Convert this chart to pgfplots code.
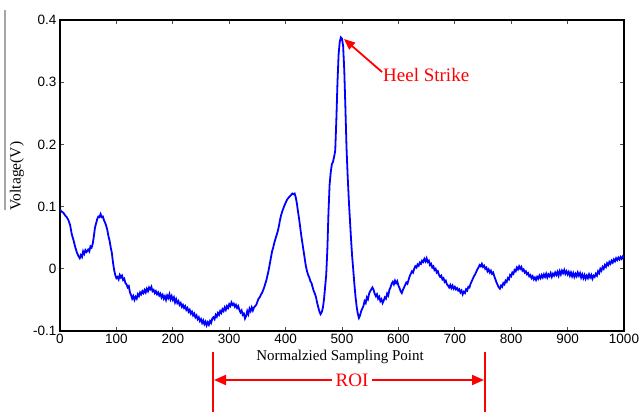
\documentclass[border=0pt]{standalone}
\usepackage{fontspec}
\setmainfont{Liberation Sans}
\newfontfamily\serif{Liberation Serif}
\usepackage{pgfplots}
\pgfplotsset{compat=1.18}
\usetikzlibrary{arrows.meta}

\pgfplotstableread{
x y
0 0.095
3 0.092
6 0.090
9 0.086
12 0.083
15 0.078
18 0.070
21 0.055
24 0.046
27 0.035
30 0.026
33 0.020
35 0.017
37 0.022
39 0.019
41 0.028
43 0.024
45 0.030
47 0.027
50 0.031
52 0.028
54 0.036
56 0.034
58 0.040
60 0.052
62 0.066
64 0.073
66 0.080
68 0.084
70 0.083
72 0.088
74 0.083
76 0.084
78 0.078
80 0.074
82 0.069
84 0.062
86 0.052
88 0.045
90 0.034
92 0.025
94 0.010
96 -0.002
98 -0.010
100 -0.015
102 -0.013
104 -0.017
106 -0.010
108 -0.014
110 -0.011
112 -0.018
114 -0.016
116 -0.023
118 -0.025
120 -0.030
122 -0.028
124 -0.038
126 -0.042
128 -0.048
130 -0.044
132 -0.050
134 -0.045
136 -0.048
138 -0.041
140 -0.044
142 -0.038
144 -0.041
146 -0.036
148 -0.039
150 -0.034
152 -0.038
154 -0.032
156 -0.036
158 -0.030
160 -0.033
162 -0.029
164 -0.036
166 -0.034
168 -0.039
170 -0.036
172 -0.041
174 -0.038
176 -0.043
178 -0.040
180 -0.046
182 -0.042
184 -0.048
186 -0.044
188 -0.050
190 -0.043
192 -0.047
194 -0.041
196 -0.049
198 -0.044
200 -0.050
202 -0.046
204 -0.054
206 -0.049
208 -0.055
210 -0.052
212 -0.058
214 -0.055
216 -0.061
218 -0.058
220 -0.063
222 -0.060
224 -0.066
226 -0.063
228 -0.069
230 -0.066
232 -0.072
234 -0.069
236 -0.075
238 -0.072
240 -0.078
242 -0.075
244 -0.081
246 -0.078
248 -0.084
250 -0.081
252 -0.087
254 -0.083
256 -0.089
258 -0.085
260 -0.091
262 -0.086
264 -0.090
266 -0.084
268 -0.087
270 -0.080
272 -0.078
274 -0.081
276 -0.074
278 -0.077
280 -0.071
282 -0.074
284 -0.068
286 -0.071
288 -0.065
290 -0.068
292 -0.062
294 -0.066
296 -0.060
298 -0.063
300 -0.057
302 -0.060
304 -0.054
306 -0.058
308 -0.056
310 -0.061
312 -0.058
314 -0.063
316 -0.060
318 -0.066
320 -0.070
322 -0.067
324 -0.074
326 -0.072
328 -0.080
330 -0.076
332 -0.068
334 -0.073
336 -0.064
338 -0.068
340 -0.062
342 -0.067
344 -0.062
346 -0.060
348 -0.058
350 -0.053
352 -0.048
354 -0.046
356 -0.042
358 -0.039
360 -0.035
362 -0.030
364 -0.024
366 -0.018
368 -0.010
370 -0.002
372 0.008
374 0.018
376 0.028
378 0.034
380 0.042
382 0.048
384 0.054
386 0.060
388 0.068
390 0.078
392 0.086
394 0.092
396 0.097
398 0.102
400 0.106
402 0.110
404 0.113
406 0.115
408 0.117
410 0.119
412 0.121
414 0.120
416 0.121
418 0.115
420 0.105
422 0.092
424 0.080
426 0.066
428 0.052
430 0.040
432 0.028
434 0.016
436 0.004
438 -0.004
440 -0.010
442 -0.014
444 -0.020
446 -0.023
448 -0.030
450 -0.036
452 -0.040
454 -0.046
456 -0.055
458 -0.062
460 -0.069
462 -0.073
464 -0.070
466 -0.063
468 -0.050
470 -0.030
472 -0.010
474 0.030
476 0.090
478 0.135
480 0.155
482 0.168
484 0.172
486 0.180
488 0.190
490 0.240
492 0.300
494 0.345
496 0.365
498 0.372
500 0.370
502 0.358
504 0.320
506 0.260
508 0.195
510 0.150
512 0.112
514 0.080
516 0.048
518 0.020
520 -0.002
522 -0.025
524 -0.045
526 -0.061
528 -0.072
530 -0.079
532 -0.075
534 -0.068
536 -0.064
538 -0.060
540 -0.052
542 -0.055
544 -0.046
546 -0.049
548 -0.040
550 -0.036
552 -0.033
554 -0.030
556 -0.034
558 -0.040
560 -0.044
562 -0.041
564 -0.048
566 -0.045
568 -0.052
570 -0.049
572 -0.055
574 -0.051
576 -0.046
578 -0.048
580 -0.040
582 -0.043
584 -0.034
586 -0.030
588 -0.024
590 -0.021
592 -0.025
594 -0.019
596 -0.023
598 -0.020
600 -0.027
602 -0.031
604 -0.036
606 -0.039
608 -0.034
610 -0.030
612 -0.026
614 -0.022
616 -0.024
618 -0.018
620 -0.012
622 -0.008
624 -0.004
626 -0.006
628 0.000
630 0.004
632 0.002
634 0.007
636 0.005
638 0.010
640 0.008
642 0.013
644 0.011
646 0.016
648 0.012
650 0.017
652 0.011
654 0.013
656 0.006
658 0.008
660 0.002
662 0.004
664 -0.002
666 0.000
668 -0.006
670 -0.004
672 -0.010
674 -0.013
676 -0.011
678 -0.017
680 -0.015
682 -0.021
684 -0.019
686 -0.025
688 -0.027
690 -0.030
692 -0.026
694 -0.031
696 -0.027
698 -0.032
700 -0.029
702 -0.033
704 -0.031
706 -0.035
708 -0.033
710 -0.038
712 -0.035
714 -0.041
716 -0.037
718 -0.039
720 -0.033
722 -0.035
724 -0.029
726 -0.030
728 -0.024
730 -0.020
732 -0.016
734 -0.012
736 -0.009
738 -0.005
740 -0.001
742 0.002
744 0.006
746 0.004
748 0.008
750 0.003
752 0.005
754 0.000
756 0.002
758 -0.004
760 -0.001
762 -0.006
764 -0.003
766 -0.008
768 -0.006
770 -0.012
772 -0.017
774 -0.022
776 -0.026
778 -0.030
780 -0.032
782 -0.027
784 -0.029
786 -0.023
788 -0.025
790 -0.019
792 -0.021
794 -0.015
796 -0.017
798 -0.010
800 -0.012
802 -0.006
804 -0.008
806 -0.002
808 -0.004
810 0.002
812 -0.001
814 0.004
816 0.000
818 0.003
820 -0.003
822 -0.001
824 -0.006
826 -0.004
828 -0.009
830 -0.007
832 -0.012
834 -0.010
836 -0.015
838 -0.012
840 -0.017
842 -0.014
844 -0.018
846 -0.013
848 -0.016
850 -0.011
852 -0.015
854 -0.010
856 -0.014
858 -0.009
860 -0.013
862 -0.008
864 -0.014
866 -0.009
868 -0.012
870 -0.007
872 -0.013
874 -0.008
876 -0.011
878 -0.006
880 -0.010
882 -0.005
884 -0.011
886 -0.004
888 -0.009
890 -0.003
892 -0.007
894 -0.002
896 -0.008
898 -0.004
900 -0.009
902 -0.005
904 -0.011
906 -0.006
908 -0.012
910 -0.007
912 -0.013
914 -0.008
916 -0.012
918 -0.006
920 -0.011
922 -0.007
924 -0.014
926 -0.009
928 -0.015
930 -0.010
932 -0.016
934 -0.011
936 -0.015
938 -0.009
940 -0.014
942 -0.010
944 -0.016
946 -0.011
948 -0.013
950 -0.008
952 -0.011
954 -0.004
956 -0.007
958 0.000
960 -0.003
962 0.003
964 0.000
966 0.006
968 0.003
970 0.009
972 0.006
974 0.011
976 0.008
978 0.013
980 0.010
982 0.015
984 0.012
986 0.017
988 0.014
990 0.018
992 0.015
994 0.019
996 0.016
998 0.020
1000 0.018
}\signal

\begin{document}
\begin{tikzpicture}[x=1pt,y=1pt]
% page = 641 x 412 px, 1px = 1pt, origin bottom left
\path[use as bounding box] (0,0) rectangle (641,412);
\fill[white] (0,0) rectangle (641,412);
\draw[gray!70, line width=1.5pt] (5,202) -- (5,402);

\begin{axis}[
  at={(60pt,81pt)}, anchor=south west,
  scale only axis,
  width=564pt, height=311pt,
  xmin=0, xmax=1000, ymin=-0.1, ymax=0.4,
  xtick={0,100,...,1000},
  ytick={-0.1,0,0.1,0.2,0.3,0.4},
  yticklabels={-0.1,0,0.1,0.2,0.3,0.4},
  tick align=inside,
  major tick length=4pt,
  tick style={gray!60!black, line width=0.8pt},
  axis line style={line width=1.4pt},
  ticklabel style={font=\fontsize{13.5}{15}\selectfont},
  /pgf/number format/assume math mode=true,
  /pgf/number format/1000 sep={},
]
\addplot[blue, line width=1.8pt] table[x=x, y=y] {\signal};
\end{axis}

% axis labels
\node[font=\serif\fontsize{15}{16}\selectfont] at (340,55) {Normalzied Sampling Point};
\node[font=\serif\fontsize{15.5}{16}\selectfont, rotate=90] at (17,236) {Voltage(V)};

% Heel strike annotation
\draw[red, line width=1.8pt, -{Triangle[length=11pt,width=9pt]}] (382,340) -- (344,373);
\node[red, anchor=base west, font=\serif\fontsize{19}{20}\selectfont, inner sep=0pt] at (383,330) {Heel Strike};

% ROI annotation
\draw[red, line width=2.2pt] (213,60) -- (213,0);
\draw[red, line width=2.2pt] (485,60) -- (485,0);
\draw[red, line width=2pt, {Triangle[length=12pt,width=10pt]}-{Triangle[length=12pt,width=10pt]}] (214,32) -- (484,32);
\node[red, fill=white, font=\serif\fontsize{19}{20}\selectfont, inner sep=4pt] at (352,32) {ROI};
\end{tikzpicture}
\end{document}
